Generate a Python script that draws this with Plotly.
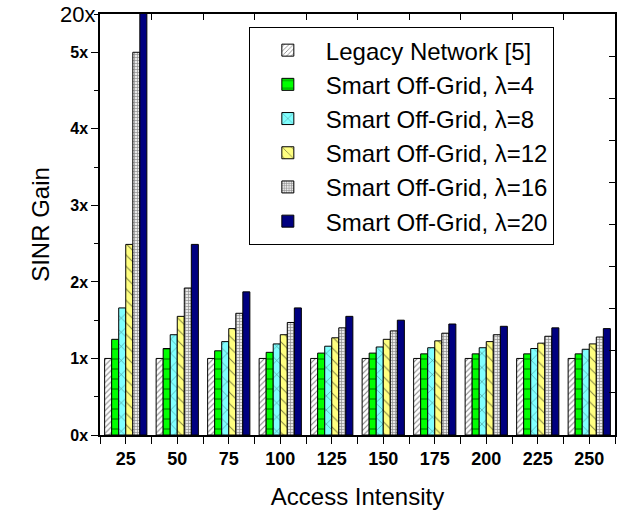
import plotly.graph_objects as go

access = [25, 50, 75, 100, 125, 150, 175, 200, 225, 250]
tick_labels = [str(a) for a in access]

legacy = [1.0] * 10
lam4 = [1.25, 1.13, 1.10, 1.08, 1.07, 1.07, 1.06, 1.06, 1.06, 1.06]
lam8 = [1.66, 1.31, 1.22, 1.19, 1.16, 1.15, 1.14, 1.14, 1.13, 1.12]
lam12 = [2.49, 1.55, 1.39, 1.31, 1.27, 1.25, 1.23, 1.22, 1.20, 1.19]
lam16 = [5.00, 1.92, 1.59, 1.47, 1.40, 1.36, 1.33, 1.31, 1.29, 1.28]
lam20 = [20.0, 2.49, 1.87, 1.66, 1.55, 1.50, 1.45, 1.42, 1.40, 1.39]

names = ["Legacy Network [5]", "Smart Off-Grid, λ=4", "Smart Off-Grid, λ=8",
         "Smart Off-Grid, λ=12", "Smart Off-Grid, λ=16", "Smart Off-Grid, λ=20"]
series = [legacy, lam4, lam8, lam12, lam16, lam20]

y_tickvals = [0, 1, 2, 3, 4, 5]
y_ticktext = ["0x", "1x", "2x", "3x", "4x", "5x"]

styles = [
    dict(color="white", pattern=dict(shape="/", fgcolor="black", bgcolor="white", size=4, solidity=0.25)),
    dict(color="#00FF00", pattern=dict(shape="-", fgcolor="black", bgcolor="#00FF00", size=10, solidity=0.12)),
    dict(color="#80FFFF", pattern=dict(shape="x", fgcolor="black", bgcolor="#80FFFF", size=10, solidity=0.1)),
    dict(color="#FFFF80", pattern=dict(shape="\\", fgcolor="black", bgcolor="#FFFF80", size=8, solidity=0.12)),
    dict(color="#B0B0B0", pattern=dict(shape="+", fgcolor="#303030", bgcolor="#E8E8E8", size=3, solidity=0.4)),
    dict(color="#000080"),
]

idx = list(range(len(access)))

fig = go.Figure()
for i, (nm, vals, st) in enumerate(zip(names, series, styles)):
    marker = dict(color=st["color"], line=dict(color="black", width=1))
    if "pattern" in st:
        marker["pattern"] = st["pattern"]
    fig.add_trace(go.Bar(x=idx, y=vals, name=nm, marker=marker,
                         legendgroup=f"g{i}", cliponaxis=True))

# invisible trace to activate mirrored axes
fig.add_trace(go.Scatter(x=[0], y=[0], xaxis="x2", yaxis="y2", mode="markers",
                         marker=dict(opacity=0), showlegend=False, hoverinfo="skip"))

fig.update_layout(
    width=619, height=514,
    margin=dict(l=100, r=4, t=14, b=79),
    paper_bgcolor="white", plot_bgcolor="white",
    barmode="group", bargap=0.18, bargroupgap=0,
    font=dict(family="Arial, Liberation Sans, sans-serif", color="black"),
    xaxis=dict(range=[-0.5, 9.5], tickmode="array", tickvals=idx, ticktext=tick_labels,
               tickfont=dict(size=18, weight="bold"), ticks="outside", ticklen=7,
               tickcolor="black", showline=True, linecolor="black", linewidth=1.5,
               showgrid=False, zeroline=False,
               minor=dict(tickmode="linear", tick0=0.5, dtick=1, ticks="outside",
                          ticklen=7, tickcolor="black"),
               title=dict(text="Access Intensity", font=dict(size=24), standoff=20)),
    yaxis=dict(range=[0, 5.5], tickmode="array", tickvals=y_tickvals, ticktext=y_ticktext,
               tickfont=dict(size=16, weight="bold"), ticks="outside", ticklen=7,
               tickcolor="black", showline=True, linecolor="black", linewidth=1.5,
               showgrid=False, zeroline=False,
               minor=dict(tickmode="linear", tick0=0, dtick=0.5, ticks="outside",
                          ticklen=4, tickcolor="black"),
               title=dict(text="SINR Gain", font=dict(size=24), standoff=14)),
    xaxis2=dict(overlaying="x", side="top", anchor="y", range=[-0.5, 9.5],
                tickmode="linear", tick0=0.5, dtick=1, ticks="inside", ticklen=6,
                tickcolor="black", showticklabels=False, showline=True,
                linecolor="black", linewidth=1.5, showgrid=False, zeroline=False),
    yaxis2=dict(overlaying="y", side="right", anchor="x", range=[0, 10],
                tickmode="linear", tick0=0, dtick=1, ticks="inside", ticklen=6,
                tickcolor="black", showticklabels=False, showline=True,
                linecolor="black", linewidth=1.5, showgrid=False, zeroline=False),
    legend=dict(x=0.289, y=0.969, xanchor="left", yanchor="top",
                bgcolor="white", bordercolor="black", borderwidth=1,
                font=dict(size=24), tracegroupgap=2, itemwidth=66,
                traceorder="normal"),
    annotations=[dict(text="20x", xref="paper", yref="y", x=0, y=5.5,
                      xanchor="right", yanchor="middle", xshift=-3, showarrow=False,
                      font=dict(size=22))],
)

fig.write_html("out.html", config=dict(displayModeBar=False),
               post_script="document.body.style.margin='0';document.body.style.overflow='hidden';")
